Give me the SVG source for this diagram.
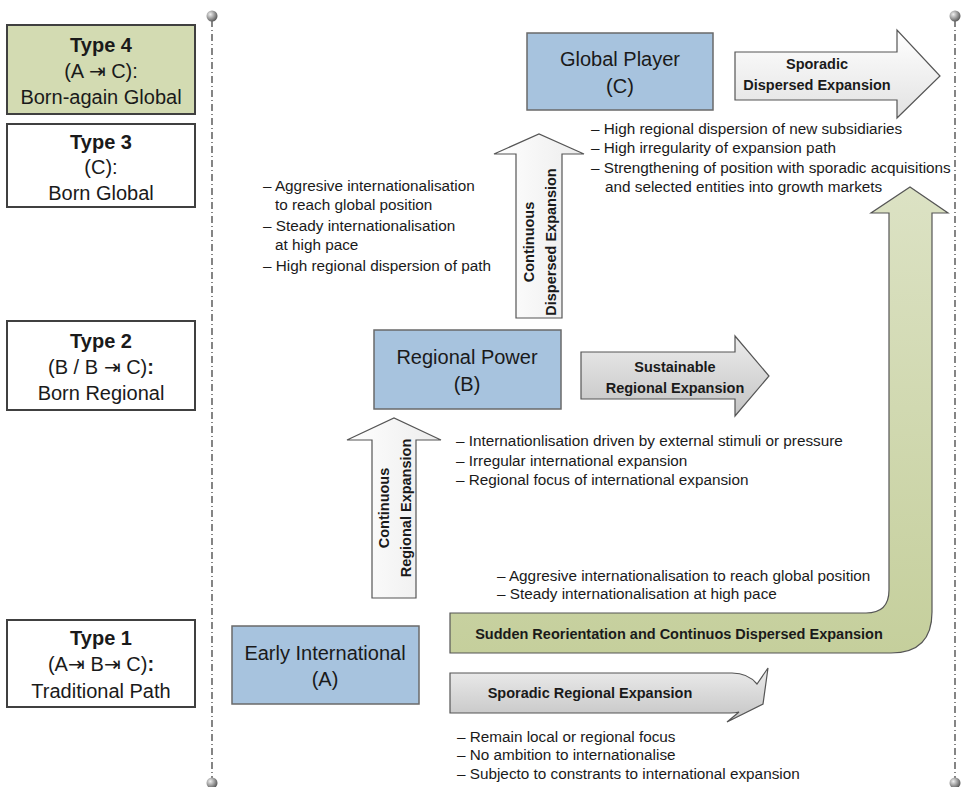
<svg xmlns="http://www.w3.org/2000/svg" width="967" height="787" viewBox="0 0 967 787">
<defs>
<linearGradient id="gWhite" x1="0" y1="0" x2="0" y2="1"><stop offset="0" stop-color="#ffffff"/><stop offset="1" stop-color="#e2e2e2"/></linearGradient>
<linearGradient id="gWhiteV" x1="0" y1="0" x2="1" y2="0"><stop offset="0" stop-color="#ffffff"/><stop offset="1" stop-color="#ececec"/></linearGradient>
<linearGradient id="gGrey" x1="0" y1="0" x2="0" y2="1"><stop offset="0" stop-color="#ececec"/><stop offset="1" stop-color="#c4c4c4"/></linearGradient>
<linearGradient id="gGreen" x1="0" y1="0" x2="0" y2="1"><stop offset="0" stop-color="#dce2c4"/><stop offset="1" stop-color="#c5cf9c"/></linearGradient>
<radialGradient id="gKnob" cx="0.35" cy="0.35" r="0.7"><stop offset="0" stop-color="#f0f0f0"/><stop offset="1" stop-color="#555555"/></radialGradient>
<style>
.tbox{fill:#ffffff;stroke:#404040;stroke-width:2}
.tbox.g{fill:#d3dbb2}
.node{fill:#a7c3de;stroke:#6a6a6a;stroke-width:1.5}
.arr{stroke:#555555;stroke-width:1.2}
.sep{stroke:#444444;stroke-width:1.3;stroke-dasharray:7 3 1 3;fill:none}
text{font-family:"Liberation Sans",Arial,sans-serif;fill:#1a1a1a}
.tt{font-size:20px;text-anchor:middle}
.b{font-weight:bold}
.nt{font-size:20px;text-anchor:middle}
.bl{font-size:15.3px}
.al{font-size:14.5px;font-weight:bold;text-anchor:middle}
</style>
</defs>

<g id="separators">
<line class="sep" x1="212" y1="20" x2="212" y2="780"/>
<line class="sep" x1="955" y1="20" x2="955" y2="780"/>
<circle cx="212" cy="16" r="5.5" fill="url(#gKnob)"/>
<circle cx="212" cy="783" r="5.5" fill="url(#gKnob)"/>
<circle cx="955" cy="16" r="5.5" fill="url(#gKnob)"/>
<circle cx="955" cy="783" r="5.5" fill="url(#gKnob)"/>
</g>

<g id="type4">
<rect class="tbox g" x="7" y="25" width="188" height="89"/>
<text class="tt b" x="101" y="52">Type 4</text>
<text class="tt" x="101" y="78">(A ⇥ C):</text>
<text class="tt" x="101" y="104">Born-again Global</text>
</g>
<g id="type3">
<rect class="tbox" x="7" y="124" width="188" height="83"/>
<text class="tt b" x="101" y="149">Type 3</text>
<text class="tt" x="101" y="174">(C):</text>
<text class="tt" x="101" y="200">Born Global</text>
</g>
<g id="type2">
<rect class="tbox" x="7" y="321" width="188" height="89"/>
<text class="tt b" x="101" y="348">Type 2</text>
<text class="tt" x="101" y="374">(B / B ⇥ C)<tspan class="b">:</tspan></text>
<text class="tt" x="101" y="400">Born Regional</text>
</g>
<g id="type1">
<rect class="tbox" x="7" y="620" width="188" height="87"/>
<text class="tt b" x="101" y="645">Type 1</text>
<text class="tt" x="101" y="671">(A⇥ B⇥ C)<tspan class="b">:</tspan></text>
<text class="tt" x="101" y="698">Traditional Path</text>
</g>

<g id="connectors">
<g id="arrow-sporadic-dispersed">
<polygon class="arr" fill="url(#gWhite)" points="735,52 897,52 897,30 940,76 897,118 897,100 735,100"/>
<text class="al" x="817" y="69">Sporadic</text>
<text class="al" x="817" y="90">Dispersed Expansion</text>
</g>
<g id="arrow-sustainable">
<polygon class="arr" fill="url(#gGrey)" points="581,352 735,352 735,336 769,376 735,416 735,399 581,399"/>
<text class="al" x="675" y="372">Sustainable</text>
<text class="al" x="675" y="393">Regional Expansion</text>
</g>
<g id="arrow-cont-dispersed">
<polygon class="arr" fill="url(#gWhiteV)" points="516,318 516,154 494,154 539,134 584,154 562,154 562,318"/>
<text class="al" transform="translate(534,242) rotate(-90)">Continuous</text>
<text class="al" transform="translate(556,242) rotate(-90)">Dispersed Expansion</text>
</g>
<g id="arrow-cont-regional">
<polygon class="arr" fill="url(#gWhiteV)" points="372,598 372,440 347,440 394,418 441,440 416,440 416,598"/>
<text class="al" transform="translate(389,508) rotate(-90)">Continuous</text>
<text class="al" transform="translate(411,508) rotate(-90)">Regional Expansion</text>
</g>
<g id="arrow-sudden">
<path class="arr" fill="url(#gGreen)" d="M450,613 H866 Q889,613 889,590 V213 H871 L910,187 L948,213 H932 V612 Q932,653 891,653 H450 Z"/>
<text class="al" x="679" y="639">Sudden Reorientation and Continuos Dispersed Expansion</text>
</g>
<g id="arrow-sporadic-regional">
<path class="arr" fill="url(#gGrey)" d="M450,673 H732 Q748,673 757,684 L768,668 L763,704 L727,722 L739,712 Q736,713 730,713 H450 Z"/>
<text class="al" x="590" y="698">Sporadic Regional Expansion</text>
</g>
</g>

<g id="global-player">
<rect class="node" x="527" y="33" width="186" height="77"/>
<text class="nt" x="620" y="66">Global Player</text>
<text class="nt" x="620" y="93">(C)</text>
</g>
<g id="regional-power">
<rect class="node" x="374" y="330" width="187" height="79"/>
<text class="nt" x="467" y="364">Regional Power</text>
<text class="nt" x="467" y="391">(B)</text>
</g>
<g id="early-international">
<rect class="node" x="232" y="626" width="187" height="78"/>
<text class="nt" x="325" y="660">Early International</text>
<text class="nt" x="325" y="686">(A)</text>
</g>

<g id="notes-global">
<text class="bl" x="591" y="134">– High regional dispersion of new subsidiaries</text>
<text class="bl" x="591" y="153">– High irregularity of expansion path</text>
<text class="bl" x="591" y="173">– Strengthening of position with sporadic acquisitions</text>
<text class="bl" x="605" y="192">and selected entities into growth markets</text>
</g>
<g id="notes-type3">
<text class="bl" x="263" y="191">– Aggresive internationalisation</text>
<text class="bl" x="275" y="210">to reach global position</text>
<text class="bl" x="263" y="231">– Steady internationalisation</text>
<text class="bl" x="275" y="250">at high pace</text>
<text class="bl" x="263" y="271">– High regional dispersion of path</text>
</g>
<g id="notes-regional">
<text class="bl" x="456" y="446">– Internationlisation driven by external stimuli or pressure</text>
<text class="bl" x="456" y="466">– Irregular international expansion</text>
<text class="bl" x="456" y="485">– Regional focus of international expansion</text>
</g>
<g id="notes-type4">
<text class="bl" x="497" y="581">– Aggresive internationalisation to reach global position</text>
<text class="bl" x="497" y="599">– Steady internationalisation at high pace</text>
</g>
<g id="notes-type1">
<text class="bl" x="457" y="742">– Remain local or regional focus</text>
<text class="bl" x="457" y="760">– No ambition to internationalise</text>
<text class="bl" x="457" y="779">– Subjecto to constrants to international expansion</text>
</g>
</svg>
